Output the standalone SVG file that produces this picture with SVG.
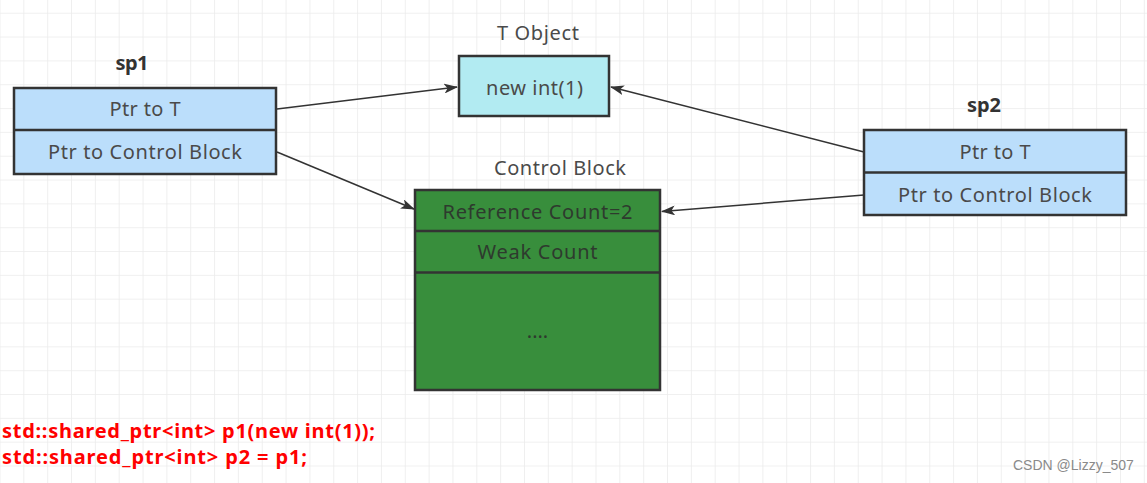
<svg xmlns="http://www.w3.org/2000/svg" width="1147" height="483" viewBox="0 0 1147 483">
  <style>
    .box { stroke: #333333; stroke-width: 2.5; }
    .ptr { fill: #bbdefb; }
    .obj { fill: #b2ebf2; }
    .cb { fill: #388e3c; }
    .t { font-family: "Noto Sans", "Open Sans", sans-serif; font-size: 20px; fill: #4a4a4a; text-anchor: middle; }
    .tcb { fill: #2e3a2e; }
    .lbl { font-family: "Noto Sans", "Open Sans", sans-serif; font-size: 20px; fill: #4a4a4a; text-anchor: middle; }
    .title { font-family: "Noto Sans", "Open Sans", sans-serif; font-size: 20px; font-weight: bold; fill: #333333; text-anchor: middle; }
    .code { font-family: "Noto Sans", "Open Sans", sans-serif; font-size: 20px; font-weight: bold; fill: #ff0000; }
    .wm { font-family: "Liberation Sans", Arial, sans-serif; font-size: 14px; fill: #8a8a8a; }
    .conn { stroke: #333333; stroke-width: 1.5; fill: none; marker-end: url(#arrow); }
  </style>
  <defs>
    <pattern id="grid" patternUnits="userSpaceOnUse" x="-0.5" y="-11.1" width="23.84" height="23.83">
      <path d="M 0 0 H 23.84 M 0 0 V 23.83" stroke="#ebebeb" stroke-width="1.6" fill="none"/>
    </pattern>
    <marker id="arrow" viewBox="0 0 14 10" refX="13" refY="5" markerWidth="14" markerHeight="10" markerUnits="userSpaceOnUse" orient="auto">
      <path d="M 0 0 L 14 5 L 0 10 L 3.5 5 Z" fill="#333333"/>
    </marker>
  </defs>
  <rect x="0" y="0" width="1147" height="483" fill="#ffffff"/>
  <rect x="0" y="0" width="1147" height="483" fill="url(#grid)"/>

  <g id="connectors">
    <line class="conn" x1="277" y1="109" x2="457" y2="87"/>
    <line class="conn" x1="277" y1="152" x2="414" y2="209"/>
    <line class="conn" x1="864" y1="152" x2="611" y2="87"/>
    <line class="conn" x1="864" y1="195" x2="662" y2="211.5"/>
  </g>

  <g id="sp1">
    <text class="title" x="132" y="70" textLength="33">sp1</text>
    <rect class="box ptr" x="14" y="88" width="262" height="86"/>
    <line class="box" x1="14" y1="130" x2="276" y2="130"/>
    <text class="t" x="145" y="116" textLength="71">Ptr to T</text>
    <text class="t" x="145" y="159" textLength="194">Ptr to Control Block</text>
  </g>

  <g id="tobject">
    <text class="lbl" x="538" y="40" textLength="82">T Object</text>
    <rect class="box obj" x="459" y="56" width="150" height="60"/>
    <text class="t" x="534.5" y="94.5" textLength="97">new int(1)</text>
  </g>

  <g id="controlblock">
    <text class="lbl" x="560" y="175" textLength="132">Control Block</text>
    <rect class="box cb" x="415" y="190" width="245" height="200"/>
    <line class="box" x1="415" y1="231" x2="660" y2="231"/>
    <line class="box" x1="415" y1="272.5" x2="660" y2="272.5"/>
    <text class="t tcb" x="537.5" y="218.5" textLength="190">Reference Count=2</text>
    <text class="t tcb" x="537.5" y="258.5" textLength="120">Weak Count</text>
    <text class="t tcb" x="537.5" y="338">....</text>
  </g>

  <g id="sp2">
    <text class="title" x="984" y="112" textLength="34">sp2</text>
    <rect class="box ptr" x="864" y="130" width="262" height="85"/>
    <line class="box" x1="864" y1="172.5" x2="1126" y2="172.5"/>
    <text class="t" x="995" y="159" textLength="71">Ptr to T</text>
    <text class="t" x="995" y="201.5" textLength="194">Ptr to Control Block</text>
  </g>

  <g id="code">
    <text class="code" x="2" y="437.5" textLength="373">std::shared_ptr&lt;int&gt; p1(new int(1));</text>
    <text class="code" x="2" y="463.5" textLength="305">std::shared_ptr&lt;int&gt; p2 = p1;</text>
  </g>

  <text class="wm" x="1013" y="470">CSDN @Lizzy_507</text>
</svg>
